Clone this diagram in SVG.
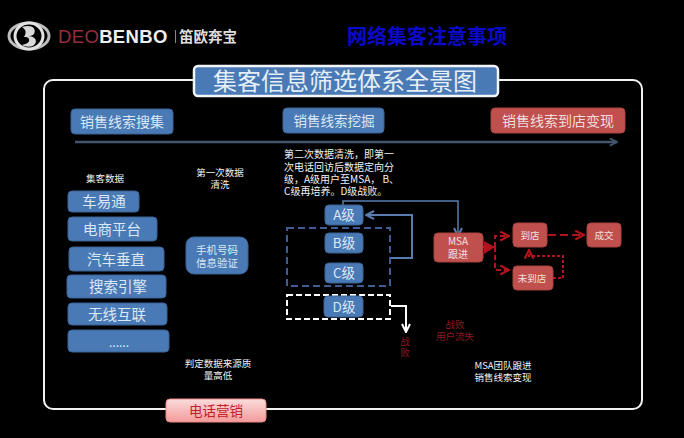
<svg xmlns="http://www.w3.org/2000/svg" width="684" height="438" viewBox="0 0 684 438">
<defs>
<marker id="ab" viewBox="0 0 10 10" refX="9" refY="5" markerWidth="10" markerHeight="10" markerUnits="userSpaceOnUse" orient="auto"><path d="M1 1L9 5L1 9" fill="none" stroke="#5a7db0" stroke-width="2"/></marker>
<marker id="ag" viewBox="0 0 10 10" refX="9" refY="5" markerWidth="9" markerHeight="9" markerUnits="userSpaceOnUse" orient="auto"><path d="M1 1L9 5L1 9" fill="none" stroke="#44546f" stroke-width="2"/></marker>
<marker id="aw" viewBox="0 0 10 10" refX="9" refY="5" markerWidth="10" markerHeight="10" markerUnits="userSpaceOnUse" orient="auto"><path d="M1 1L9 5L1 9" fill="none" stroke="#fff" stroke-width="2"/></marker>
<marker id="ar" viewBox="0 0 10 10" refX="9" refY="5" markerWidth="11" markerHeight="11" markerUnits="userSpaceOnUse" orient="auto"><path d="M1 1L9 5L1 9" fill="none" stroke="#b0141e" stroke-width="2"/></marker>
<linearGradient id="pink" x1="0" y1="0" x2="0" y2="1"><stop offset="0" stop-color="#fbdcdc"/><stop offset="1" stop-color="#f49a9a"/></linearGradient>
</defs>
<style>
text{font-family:"Noto Sans CJK SC","Liberation Sans",sans-serif;text-anchor:middle}
.b{fill:#4a7ab5;stroke:#3a6295;stroke-width:1}
.r{fill:#c0504d;stroke:#a8423f;stroke-width:1}
.tb{fill:#dbe8f6}
.tw{fill:#f2f2f2;font-size:9.5px}
.tr{fill:#8f1a20;font-size:9.5px}
.cr{fill:none;stroke:#b0141e;stroke-width:2}
</style>
<rect width="684" height="438" fill="#000"/>
<g id="logo">
<ellipse cx="29" cy="36" rx="20" ry="13" fill="none" stroke="#bdbdbd" stroke-width="3"/>
<ellipse cx="29" cy="36" rx="14" ry="13" fill="#000" stroke="#e2e2e2" stroke-width="3"/>
<path d="M22 27C31 24 37 28 34 34C32 36 30 36 28 36C33 36 38 39 35 44C32 48 25 47 22 45C27 44 30 42 29 39C28 37 26 37 24 37C26 34 27 30 22 27Z" fill="#d8d8d8"/>
<text x="58" y="43" font-size="18.5" style="text-anchor:start;font-family:'Liberation Sans',sans-serif;letter-spacing:.35px" fill="#9a2c3c">DEO<tspan fill="#eee" font-weight="bold">BENBO</tspan></text>
<rect x="175" y="30" width="1" height="13" fill="#888"/>
<text x="179" y="42" font-size="14.5" font-weight="bold" fill="#ddd" style="text-anchor:start">笛欧奔宝</text>
</g>
<g id="header"><text x="427" y="44" font-size="20" font-weight="bold" fill="#0a0ac8">网络集客注意事项</text></g>
<rect id="frame" x="44" y="80" width="598" height="329" rx="9" fill="none" stroke="#f2f2f2" stroke-width="2"/>
<g id="connectors" fill="none">
<path d="M75 142H617" stroke="#44546f" stroke-width="2.5" marker-end="url(#ag)"/>
<path d="M343 206V201H458V236" stroke="#5a7db0" stroke-width="1.5" marker-end="url(#ab)"/>
<path d="M391 258H412V215H366" stroke="#5a7db0" stroke-width="2" marker-end="url(#ab)"/>
<path d="M391 306H406V332" stroke="#fff" stroke-width="2" marker-end="url(#aw)"/>
<path class="cr" d="M483 247H494"/>
<path d="M484 241L495 247L484 254Z" fill="#b0141e"/>
<path class="cr" stroke-dasharray="5 3" d="M495 247V236H509" marker-end="url(#ar)"/>
<path class="cr" stroke-dasharray="5 3" d="M495 247V270H509" marker-end="url(#ar)"/>
<path class="cr" stroke-dasharray="8 4" d="M548 235H584" marker-end="url(#ar)"/>
<path class="cr" stroke-width="1.5" stroke-dasharray="3 2" d="M553 278H563V256H529V250" marker-end="url(#ar)"/>
</g>
<g id="title"><rect x="194" y="66" width="304" height="30" rx="4" fill="#4a7ab5" stroke="#f2f6fa" stroke-width="2.5"/><text x="345" y="90" font-size="24" fill="#e6eff8">集客信息筛选体系全景图</text></g>
<g id="n1"><rect class="b" x="71" y="109" width="102" height="25" rx="4"/><text class="tb" x="122" y="127" font-size="14">销售线索搜集</text></g>
<g id="n2"><rect class="b" x="283" y="108" width="101" height="25" rx="4"/><text class="tb" x="334" y="126" font-size="13.5">销售线索挖掘</text></g>
<g id="n3"><rect class="r" x="491" y="108" width="134" height="25" rx="4"/><text x="558" y="126" font-size="14" fill="#f0dcdc">销售线索到店变现</text></g>
<text class="tw" x="105" y="182">集客数据</text>
<g id="s1"><rect class="b" x="68" y="191" width="71" height="21" rx="4"/><text class="tb" x="104" y="207" font-size="14.5">车易通</text></g>
<g id="s2"><rect class="b" x="68" y="217" width="89" height="24" rx="4"/><text class="tb" x="112" y="235" font-size="14.5">电商平台</text></g>
<g id="s3"><rect class="b" x="69" y="247" width="95" height="24" rx="4"/><text class="tb" x="116" y="265" font-size="14.5">汽车垂直</text></g>
<g id="s4"><rect class="b" x="67" y="275" width="99" height="23" rx="4"/><text class="tb" x="118" y="292" font-size="14.5">搜索引擎</text></g>
<g id="s5"><rect class="b" x="68" y="303" width="99" height="22" rx="4"/><text class="tb" x="117" y="320" font-size="14.5">无线互联</text></g>
<g id="s6"><rect class="b" x="68" y="330" width="101" height="22" rx="4"/><text class="tb" x="119" y="347" font-size="12">......</text></g>
<text class="tw" x="220" y="176">第一次数据<tspan x="220" dy="12">清洗</tspan></text>
<g id="verify"><rect class="b" x="186" y="237" width="62" height="37" rx="8"/><text class="tb" x="217" y="254" font-size="10.5">手机号码<tspan x="217" dy="13">信息验证</tspan></text></g>
<text class="tw" x="218" y="367">判定数据来源质<tspan x="218" dy="12">量高低</tspan></text>
<g id="tel"><rect x="166" y="399" width="100" height="23" rx="4" fill="url(#pink)" stroke="#e88" stroke-width="1"/><text x="216" y="416" font-size="13.5" fill="#c02028">电话营销</text></g>
<text id="note" fill="#f2f2f2" font-size="10" y="158" style="text-anchor:start"><tspan x="284">第二次数据清洗，即第一</tspan><tspan x="284" dy="13">次电话回访后数据定向分</tspan><tspan x="284" dy="12">级，A级用户至MSA， B、</tspan><tspan x="284" dy="12">C级再培养。D级战败。</tspan></text>
<rect id="bc-box" x="287" y="228" width="103" height="58" fill="none" stroke="#3f5c94" stroke-width="2" stroke-dasharray="7 4"/>
<rect id="d-box" x="287" y="295" width="103" height="24" fill="none" stroke="#fff" stroke-width="2" stroke-dasharray="6 3"/>
<g id="a"><rect class="b" x="325" y="205" width="38" height="20" rx="4"/><text class="tb" x="344" y="220" font-size="13.5">A级</text></g>
<g id="bn"><rect class="b" x="325" y="233" width="38" height="20" rx="4"/><text class="tb" x="344" y="248" font-size="13.5">B级</text></g>
<g id="c"><rect class="b" x="325" y="263" width="38" height="20" rx="4"/><text class="tb" x="344" y="278" font-size="13.5">C级</text></g>
<g id="d"><rect class="b" x="324" y="296" width="39" height="21" rx="4"/><text class="tb" x="344" y="312" font-size="13.5">D级</text></g>
<text class="tr" x="405" y="345">战<tspan x="405" dy="11">败</tspan></text>
<g id="msa"><rect class="r" x="434" y="233" width="49" height="29" rx="4"/><text x="458" y="245" font-size="10" fill="#f0e0e0">MSA<tspan x="458" dy="13">跟进</tspan></text></g>
<g id="dd"><rect class="r" x="513" y="223" width="34" height="24" rx="4"/><text x="530" y="239" font-size="9.5" fill="#f0e0e0">到店</text></g>
<g id="cj"><rect class="r" x="587" y="223" width="34" height="24" rx="4"/><text x="604" y="239" font-size="9.5" fill="#f0e0e0">成交</text></g>
<g id="wd"><rect class="r" x="513" y="266" width="40" height="24" rx="4"/><text x="532" y="282" font-size="9.5" fill="#f0e0e0">未到店</text></g>
<text class="tr" x="455" y="328">战败<tspan x="455" dy="12">用户流失</tspan></text>
<text class="tw" x="503" y="369">MSA团队跟进<tspan x="503" dy="12">销售线索变现</tspan></text>
</svg>
